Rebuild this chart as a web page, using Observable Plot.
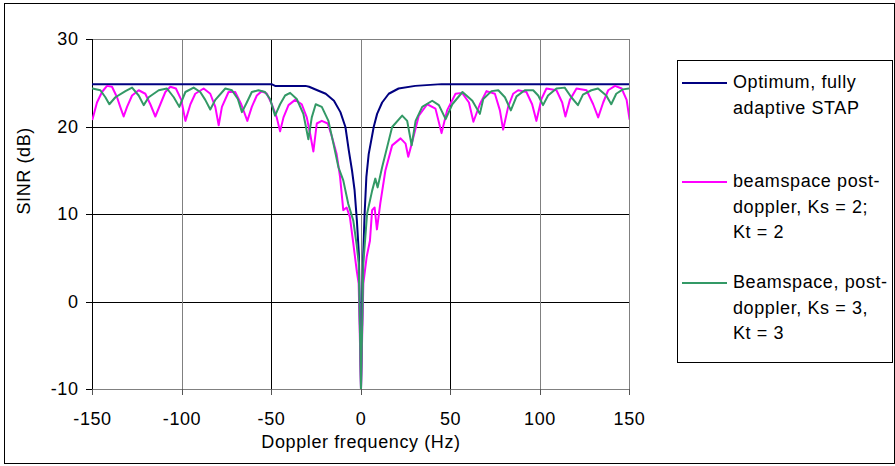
<!DOCTYPE html>
<html>
<head>
<meta charset="utf-8">
<script src="https://cdn.jsdelivr.net/npm/d3@7"></script>
<script src="https://cdn.jsdelivr.net/npm/@observablehq/plot@0.6"></script>
<style>
  html, body { margin: 0; padding: 0; background: #fff; }
  #wrap { position: relative; width: 895px; height: 466px; overflow: hidden; background: #fff;
          font-family: "Liberation Sans", Arial, sans-serif; }
  #outer { position: absolute; left: 4px; top: 3px; width: 889px; height: 459px; border: 1px solid #000; pointer-events: none; }
  #legend { position: absolute; left: 677px; top: 60px; width: 214px; height: 301px; border: 1px solid #000; background: #fff; }
  .sw { position: absolute; left: 4px; width: 45px; height: 2px; }
  .lt { position: absolute; left: 55px; font-size: 18px; letter-spacing: 0.6px; line-height: 25.7px; white-space: nowrap; color: #000; }
</style>
</head>
<body>
<div id="wrap">
  <div id="chart"></div>
  <div id="outer"></div>
  <div id="legend"></div>
</div>
<script>
// ---- data ----
const xTicks = [-150, -100, -50, 0, 50, 100, 150];
const yTicks = [-10, 0, 10, 20, 30];
const gridBlackX = [-50, 50];
const gridGreyX = [-100, 0, 100];
const gridY = [0, 10, 20];

const seriesNames = [
  ["Optimum, fully", "adaptive STAP"],
  ["beamspace post-", "doppler, Ks = 2;", "Kt = 2"],
  ["Beamspace, post-", "doppler, Ks = 3,", "Kt = 3"]
];
const seriesColors = ["#000080", "#FF00FF", "#339966"];

// Optimum, fully adaptive STAP
const optFreq = [-150, -50, -48, -31, -29, -24.4, -19.7, -15.1, -11.5, -8.7, -6.8, -5, -3.6, -2.3, -1.2, 0,
  1.2, 2.0, 3.0, 4.3, 7.1, 9, 11.8, 15.5, 21, 30.3, 45, 150];
const optSinr = [24.9, 24.9, 24.7, 24.7, 24.6, 24.2, 23.8, 23.0, 21.7, 20.0, 17.3, 15.0, 12.8, 9.3, 5.5, -10,
  5.0, 10.0, 14.3, 16.9, 20.0, 21.5, 22.8, 23.8, 24.4, 24.7, 24.9, 24.9];

// beamspace post-doppler, Ks = 2; Kt = 2
const ks2Freq = [-150, -147.5, -144.7, -141.9, -139.1, -136.3, -134.5, -132.6, -130.7, -127.9, -124.2, -120.5,
  -117.7, -114.9, -112.1, -109.3, -106.5, -103.4, -100.4, -98.1, -95.3, -92.6, -87.9, -84.2, -81.4, -79.5,
  -77.7, -74, -70.3, -66.9, -63.5, -61, -58.2, -55.4, -52.6, -49.8, -47.1, -45.2, -43.3, -40.5, -36.8,
  -33.1, -30.3, -28.4, -26.6, -24.7, -21.9, -18.6, -16.4, -13.6, -11.7, -9.9, -8.0, -6.2, -4.3, -2.4, -1.3, 0,
  1.3, 3.2, 5, 6.2, 7.6, 8.9, 10.8, 13.6, 17.4, 22.1, 24.9, 26.4, 28.6, 32.3, 37, 41.6, 45, 48.1, 52.8,
  56.5, 60.3, 62.8, 66.4, 70.1, 74.8, 77.6, 79.4, 82.2, 85, 87.8, 92.4, 95.6, 98, 100.8, 103.6, 109.2,
  112.4, 114.2, 116.7, 120.4, 126, 129.7, 132.5, 135.3, 138.1, 141.9, 145.6, 148.4, 150];
const ks2Sinr = [20.9, 22.8, 24.0, 24.7, 24.6, 23.4, 22.3, 21.2, 22.3, 23.6, 24.2, 23.8,
  22.6, 21.2, 22.6, 24.0, 24.6, 24.4, 23.1, 20.7, 22.6, 23.8, 24.4, 23.8, 22.3, 20.2,
  22.3, 24.0, 24.0, 22.6, 20.7, 22.3, 23.6, 24.1, 23.8, 22.6, 21.1, 19.5, 21.1, 22.5, 23.1,
  22.6, 21.1, 19.2, 17.2, 20.4, 20.7, 20.4, 19.0, 16.9, 14.3, 10.5, 10.8, 9.7, 6.7, 3.6, 2.1, -10,
  2.1, 5.2, 7.0, 10.5, 10.8, 8.3, 11.3, 15.0, 17.9, 18.7, 18.1, 16.6, 18.3, 21.3, 22.6, 22.1, 19.3, 21.9, 23.8,
  23.9, 22.8, 20.6, 22.6, 24.1, 23.8, 21.9, 19.7, 22.3, 23.8, 24.2, 24.0, 22.6, 20.7, 23.2, 24.4, 24.2,
  22.8, 21.2, 23.1, 24.4, 24.2, 22.6, 21.1, 22.8, 24.2, 24.7, 24.4, 23.1, 20.9];

// Beamspace, post-doppler, Ks = 3, Kt = 3
const ks3Freq = [-150, -145.6, -142.8, -140.6, -137.2, -131.6, -127.9, -124.2, -121.4, -118.6, -113, -108.4,
  -104.6, -101.5, -98.1, -93.5, -89.8, -87, -84.2, -81.4, -75.8, -72.1, -68.8, -66.5, -63.8, -61, -57.3,
  -53.6, -50.8, -48, -45.2, -42.4, -39.6, -35.9, -32.2, -29.4, -27.5, -25.3, -21.9, -18.2, -15.4, -12.6,
  -9.9, -7.1, -4.3, -2.4, -1.3, 0,
  1.3, 3.4, 6.2, 8, 9.3, 11.8, 14.6, 17.4, 23, 25.8, 28.3, 30.5, 34.2, 39.8, 43.5, 47.3, 51, 56.7, 62.2,
  66.4, 68.3, 72.9, 76.7, 80.4, 83.7, 86.9, 91.5, 96.2, 99, 101.7, 104.5, 109.2, 113.8, 117.5, 121.2, 124,
  128.7, 132.4, 137, 139.8, 142.6, 146.3, 150];
const ks3Sinr = [24.4, 24.2, 23.4, 22.6, 23.4, 24.1, 24.5, 23.6, 22.5, 23.4, 24.2, 24.4,
  23.4, 22.3, 24.0, 24.5, 24.0, 23.1, 22.0, 23.1, 24.4, 24.2, 23.2, 21.7, 22.8, 24.0, 24.2,
  24.0, 23.2, 21.3, 22.6, 23.6, 23.9, 23.2, 21.5, 18.6, 21.1, 22.6, 22.3, 20.7, 18.1, 15.4,
  13.9, 11.2, 9.3, 6.5, 4.5, -10,
  4.4, 10.1, 12.7, 14.1, 13.1, 15.4, 17.7, 20.0, 21.3, 20.7, 17.9, 20.7, 22.3, 23.0, 22.5, 20.9, 22.6, 24.0, 23.0,
  21.5, 23.2, 24.1, 24.2, 23.4, 21.9, 23.5, 24.2, 24.2, 23.6, 22.5, 23.6, 24.4, 24.5, 23.4, 22.5, 23.7,
  24.2, 24.4, 23.6, 22.6, 23.8, 24.3, 24.4];

// ---- tables built from the arrays ----
const optData = optFreq.map((f, i) => ({f, v: optSinr[i]}));
const ks2Data = ks2Freq.map((f, i) => ({f, v: ks2Sinr[i]}));
const ks3Data = ks3Freq.map((f, i) => ({f, v: ks3Sinr[i]}));

const font = "Liberation Sans, Arial, sans-serif";
const crisp = "crispEdges";

const chart = Plot.plot({
  width: 895,
  height: 466,
  marginLeft: 92,
  marginRight: 266,
  marginTop: 39,
  marginBottom: 77,
  style: {fontFamily: font, fontSize: "18px", letterSpacing: "0.6px", background: "transparent", overflow: "visible"},
  x: {domain: [-150, 150]},
  y: {domain: [-10, 30]},
  marks: [
    Plot.ruleY(gridY, {stroke: "#000", strokeWidth: 1, shapeRendering: crisp}),
    Plot.ruleX(gridGreyX, {stroke: "#808080", strokeWidth: 1, shapeRendering: crisp}),
    Plot.ruleX(gridBlackX, {stroke: "#000", strokeWidth: 1, shapeRendering: crisp}),
    Plot.frame({stroke: "#808080", strokeWidth: 1, shapeRendering: crisp}),
    Plot.ruleX([-150], {stroke: "#000", strokeWidth: 1, shapeRendering: crisp}),
    Plot.axisY({ticks: yTicks, tickSize: 6, tickPadding: 8, tickFormat: d => String(d), fontSize: 18, stroke: "#000", fill: "#000", label: null, shapeRendering: crisp}),
    Plot.axisX({ticks: xTicks, tickSize: 6, tickPadding: 17, tickFormat: d => String(d), fontSize: 18, stroke: "#555", fill: "#000", label: null, shapeRendering: crisp}),
    Plot.line(optData, {x: "f", y: "v", stroke: seriesColors[0], strokeWidth: 2, clip: true}),
    Plot.line(ks2Data, {x: "f", y: "v", stroke: seriesColors[1], strokeWidth: 2, clip: true}),
    Plot.line(ks3Data, {x: "f", y: "v", stroke: seriesColors[2], strokeWidth: 2, clip: true}),
    Plot.text(["SINR (dB)"], {frameAnchor: "left", dx: -68, rotate: -90, text: d => d, fontSize: 18, fill: "#000"}),
    Plot.text(["Doppler frequency (Hz)"], {frameAnchor: "bottom", dy: 58, text: d => d, fontSize: 18, fill: "#000"})
  ]
});
document.getElementById("chart").appendChild(chart);

// ---- legend ----
const legend = document.getElementById("legend");
const swatchTops = [21, 120, 221];
const textTops = [9, 108, 209];
seriesNames.forEach((lines, i) => {
  const sw = document.createElement("div");
  sw.className = "sw";
  sw.style.top = swatchTops[i] + "px";
  sw.style.background = seriesColors[i];
  legend.appendChild(sw);
  const t = document.createElement("div");
  t.className = "lt";
  t.style.top = textTops[i] + "px";
  t.innerHTML = lines.join("<br>");
  legend.appendChild(t);
});
</script>
</body>
</html>
